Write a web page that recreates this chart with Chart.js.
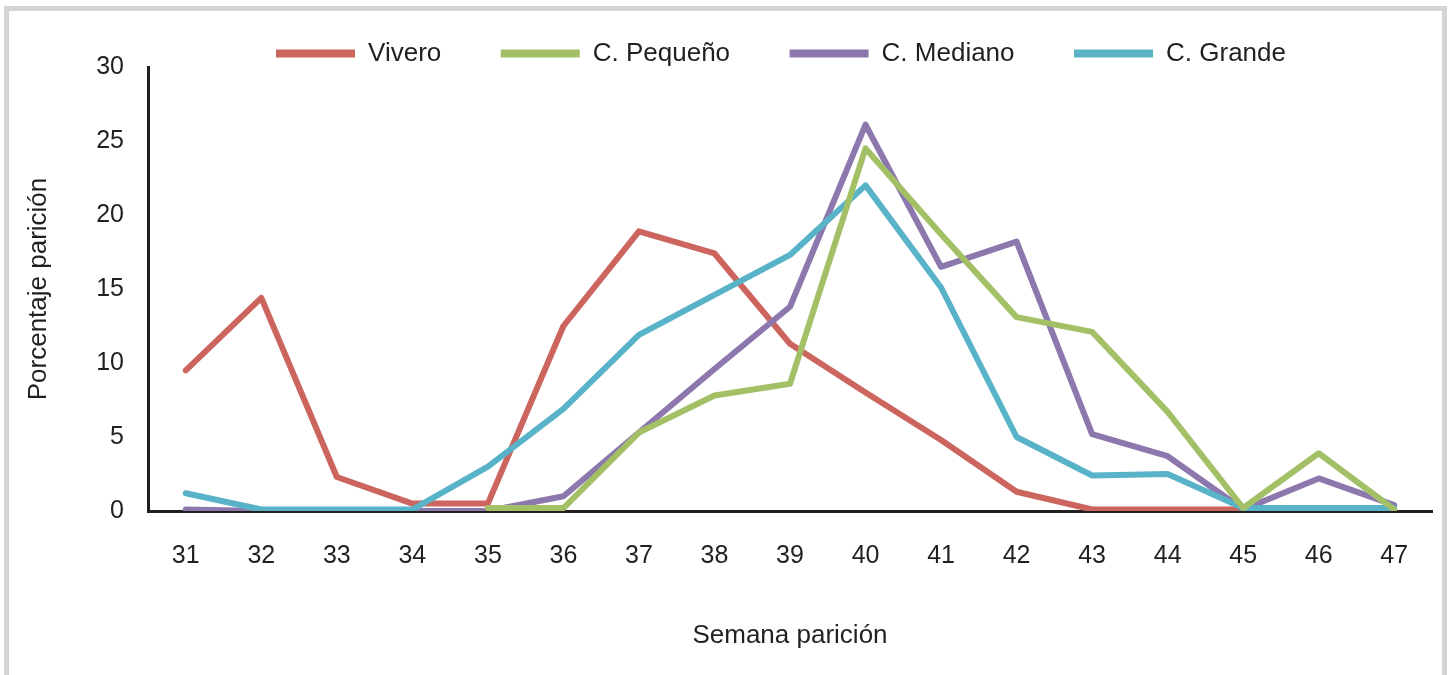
<!DOCTYPE html>
<html>
<head>
<meta charset="utf-8">
<script src="https://cdn.jsdelivr.net/npm/chart.js@4"></script>
<style>
  html, body { margin: 0; padding: 0; background: #fff; }
  #frame { position: absolute; left: 4px; top: 6px; width: 1433px; height: 700px; border: 5px solid #d4d4d6; box-sizing: content-box; }
  #c { position: absolute; left: 0; top: 0; }
</style>
</head>
<body>
<div id="frame"></div>
<canvas id="c" width="1450" height="675"></canvas>
<script>
const weeks = ['31','32','33','34','35','36','37','38','39','40','41','42','43','44','45','46','47'];
const vivero   = [9.5, 14.4, 2.3, 0.5, 0.5, 12.5, 18.9, 17.4, 11.3, 8.0, 4.8, 1.3, 0.1, 0.1, 0.1, null, null];
const pequeno  = [null, null, null, null, 0.2, 0.2, 5.3, 7.8, 8.6, 24.5, 18.7, 13.1, 12.1, 6.7, 0.2, 3.9, 0.1];
const mediano  = [0.1, 0.0, 0.0, 0.0, 0.0, 1.0, 5.3, 9.6, 13.8, 26.1, 16.5, 18.2, 5.2, 3.7, 0.1, 2.2, 0.4];
const grande   = [1.2, 0.1, 0.1, 0.1, 3.0, 6.9, 11.9, 14.6, 17.3, 22.0, 15.1, 5.0, 2.4, 2.5, 0.2, 0.2, 0.2];
const yTicks = [0, 5, 10, 15, 20, 25, 30];

const TXT = '#231f20';
const FONT = "'Liberation Sans', Arial, sans-serif";

function ds(label, data, color, order) {
  return { label, data, borderColor: color, backgroundColor: color, borderWidth: 6,
    pointRadius: 0, pointHoverRadius: 0, tension: 0, spanGaps: false,
    borderJoinStyle: 'round', borderCapStyle: 'round', order };
}

const legendShift = {
  id: 'legendShift',
  afterLayout(chart) {
    const lg = chart.legend;
    if (!lg) return;
    const dx = 65, dy = -19;
    lg.left += dx; lg.right += dx; lg.top += dy;
  }
};

new Chart(document.getElementById('c'), {
  type: 'line',
  data: {
    labels: weeks,
    datasets: [
      ds('Vivero', vivero, '#CB655E', 4),
      ds('C. Pequeño', pequeno, '#A3C066', 1),
      ds('C. Mediano', mediano, '#8D78AE', 3),
      ds('C. Grande', grande, '#58B2C8', 2)
    ]
  },
  plugins: [legendShift],
  options: {
    responsive: false,
    animation: false,
    layout: { padding: { top: 0, left: 0, right: 18, bottom: 0 } },
    plugins: {
      tooltip: { enabled: false },
      legend: {
        position: 'top',
        maxHeight: 67,
        labels: {
          boxWidth: 79, boxHeight: 8, padding: 59.5, color: TXT,
          font: { family: FONT, size: 26 },
          sort: (a, b) => a.datasetIndex - b.datasetIndex,
          generateLabels(chart) {
            return chart.data.datasets.map((d, i) => ({
              text: d.label, fillStyle: d.borderColor, strokeStyle: d.borderColor,
              lineWidth: 0, hidden: false, datasetIndex: i, fontColor: TXT
            }));
          }
        }
      }
    },
    scales: {
      x: {
        type: 'category',
        offset: true,
        grid: { display: false, drawTicks: false },
        border: { display: true, color: TXT, width: 3 },
        ticks: { color: TXT, font: { family: FONT, size: 25 }, padding: 30, maxRotation: 0, autoSkip: false },
        title: { display: true, text: 'Semana parición', color: TXT, font: { family: FONT, size: 26 }, padding: { top: 0, bottom: 24 } },
        afterFit(s) { s.height = 164; }
      },
      y: {
        min: 0, max: 30,
        afterBuildTicks(s) { s.ticks = yTicks.map(v => ({ value: v })); },
        grid: { display: false, drawTicks: false },
        border: { display: true, color: TXT, width: 3 },
        ticks: { color: TXT, font: { family: FONT, size: 25 }, padding: 24 },
        title: { display: true, text: 'Porcentaje parición', color: TXT, font: { family: FONT, size: 26 }, padding: { top: 23, bottom: 0 } },
        afterFit(s) { s.width = 148; }
      }
    }
  }
});
</script>
</body>
</html>
